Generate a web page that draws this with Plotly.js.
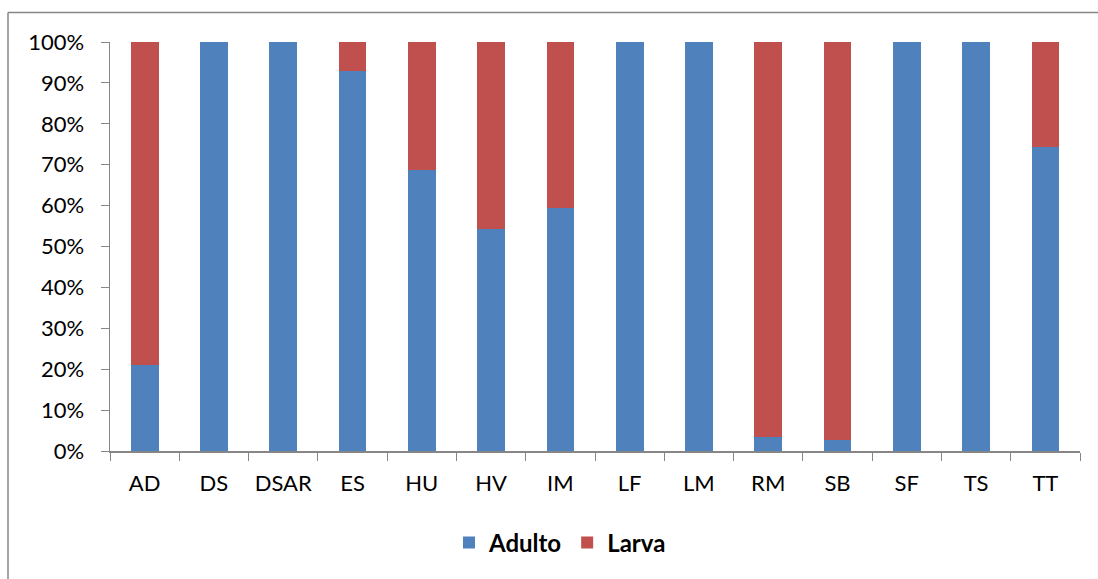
<!DOCTYPE html>
<html>
<head>
<meta charset="utf-8">
<script src="https://cdn.plot.ly/plotly-3.0.1.min.js"></script>
<style>html,body{margin:0;padding:0;background:#fff;}#chart{width:1098px;height:579px;}</style>
</head>
<body>
<div id="chart"></div>
<script>
const categories = ["AD","DS","DSAR","ES","HU","HV","IM","LF","LM","RM","SB","SF","TS","TT"];
const adulto = [21.1,100,100,92.9,68.7,54.4,59.5,100,100,3.5,2.8,100,100,74.3];
const larva = adulto.map(v => +(100 - v).toFixed(1));
const yTickVals = [0,10,20,30,40,50,60,70,80,90,100];
const yTickText = ["0%","10%","20%","30%","40%","50%","60%","70%","80%","90%","100%"];

const font = "Lato, 'Liberation Sans', sans-serif";
const L = 110, R = 1080, T = 42, B = 451;
const W = 1098, H = 579;
const px = p => (p - L) / (R - L);
const py = p => (B - p) / (B - T);

const traces = [
  {type:"bar", name:"Adulto", x:categories, y:adulto, marker:{color:"#4F81BD"}},
  {type:"bar", name:"Larva", x:categories, y:larva, marker:{color:"#C0504D"}}
];
const layout = {
  width:W, height:H,
  margin:{l:L, r:W-R, t:T, b:H-B},
  barmode:"stack", bargap:0.6,
  paper_bgcolor:"#fff", plot_bgcolor:"#fff",
  font:{family:font, size:22, color:"#000"},
  showlegend:true,
  legend:{orientation:"h", x:px(560), xanchor:"center", y:py(543), yanchor:"middle",
          font:{family:font, size:24, color:"#000", weight:"bold"}, traceorder:"normal", itemwidth:30},
  xaxis:{type:"category", showgrid:false, zeroline:false, showline:true, linecolor:"#868686", linewidth:1.5,
         ticks:"outside", ticklen:8, tickcolor:"#868686", tickson:"boundaries", ticklabelstandoff:12,
         tickfont:{family:font,size:22}},
  yaxis:{range:[0,100], tickvals:yTickVals, ticktext:yTickText, showgrid:false, zeroline:false,
         showline:true, linecolor:"#868686", linewidth:1.5, ticks:"outside", ticklen:8, tickcolor:"#868686",
         ticklabelstandoff:12, tickfont:{family:font,size:22}},
  shapes:[
    {type:"line", xref:"paper", yref:"paper", x0:px(8), x1:px(8), y0:py(12.5), y1:py(590), line:{color:"#868686", width:1.5}},
    {type:"line", xref:"paper", yref:"paper", x0:px(8), x1:px(1110), y0:py(12.5), y1:py(12.5), line:{color:"#868686", width:1.5}}
  ]
};
Plotly.newPlot("chart", traces, layout, {staticPlot:true});
</script>
</body>
</html>
